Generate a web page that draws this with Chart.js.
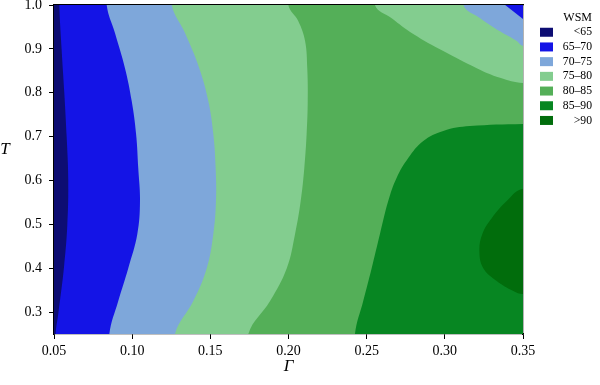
<!DOCTYPE html>
<html>
<head>
<meta charset="utf-8">
<script src="https://cdn.jsdelivr.net/npm/chart.js@4.4.1/dist/chart.umd.min.js"></script>
<style>
  html, body { margin: 0; padding: 0; background: #fff; }
  #wrap { width: 600px; height: 385px; }
</style>
</head>
<body>
<div id="wrap"><canvas id="contour"></canvas></div>
<script>
const bins = ['<65', '65–70', '70–75', '75–80', '80–85', '85–90', '>90'];
const binColors = ['#0d0d73', '#1414e6', '#7ea7da', '#83cd8f', '#54af58', '#078622', '#016d0c'];
const xTicks = [0.05, 0.10, 0.15, 0.20, 0.25, 0.30, 0.35];
const yTicks = [0.3, 0.4, 0.5, 0.6, 0.7, 0.8, 0.9, 1.0];

// contour lines, [Γ, T]
const edge65 = [[0.0534,1.0],[0.0549,0.897],[0.0566,0.799],[0.0581,0.699],[0.0591,0.601],[0.0585,0.498],[0.0564,0.403],[0.0528,0.298],[0.0511,0.25]];
const edge70 = [[0.0837,1.0],[0.0890,0.936],[0.0954,0.856],[0.0997,0.781],[0.1025,0.706],[0.1039,0.628],[0.1050,0.553],[0.1033,0.478],[0.0975,0.400],[0.0911,0.325],[0.0854,0.25]];
const edge75 = [[0.1253,1.0],[0.1338,0.936],[0.1429,0.856],[0.1487,0.781],[0.1519,0.706],[0.1534,0.628],[0.1536,0.553],[0.1519,0.478],[0.1477,0.400],[0.1391,0.325],[0.1274,0.25]];
const edge80 = [[0.1999,1.0],[0.2063,0.963],[0.2106,0.918],[0.2120,0.856],[0.2123,0.781],[0.2116,0.706],[0.2101,0.628],[0.2078,0.553],[0.2042,0.478],[0.1989,0.400],[0.1882,0.325],[0.1743,0.25]];
const edge85 = [[0.2425,0.25],[0.2478,0.325],[0.2532,0.400],[0.2585,0.478],[0.2638,0.553],[0.2692,0.606],[0.2766,0.651],[0.2862,0.690],[0.2990,0.713],[0.3161,0.724],[0.35,0.729]];
const edge90 = [[0.35,0.581],[0.3396,0.553],[0.3300,0.514],[0.3240,0.478],[0.3221,0.439],[0.3246,0.400],[0.3332,0.371],[0.3438,0.348],[0.35,0.341]];
const edge80top = [[0.2553,1.0],[0.2660,0.970],[0.2798,0.934],[0.2990,0.895],[0.3204,0.856],[0.3353,0.834],[0.35,0.822]];
const edge75top = [[0.3119,1.0],[0.3226,0.970],[0.3353,0.940],[0.3460,0.918],[0.35,0.907]];
const edge70top = [[0.3386,1.0],[0.35,0.968]];

// push an end point of a contour a bit past the frame so the fill reaches the edge
function pastEdge(p) {
  if (p[1] >= 1.0) return [p[0], 1.08];
  if (p[1] <= 0.25) return [p[0], 0.17];
  return [0.38, p[1]];
}

function region(edge, closing) {
  const pts = closing.concat([pastEdge(edge[0])], edge, [pastEdge(edge[edge.length - 1])]);
  return pts.map(p => ({x: p[0], y: p[1]}));
}

const layers = [
  {bin: 0, pts: [[0.45,0.15],[0,0.15],[0,1.1],[0.45,1.1]].map(p => ({x: p[0], y: p[1]})), tension: 0},
  {bin: 1, pts: region(edge65, [[0.45,0.15],[0.45,1.1]])},
  {bin: 2, pts: region(edge70, [[0.45,0.15],[0.45,1.1]])},
  {bin: 3, pts: region(edge75, [[0.45,0.15],[0.45,1.1]])},
  {bin: 4, pts: region(edge80, [[0.45,0.15],[0.45,1.1]])},
  {bin: 5, pts: region(edge85, [[0.45,0.73],[0.45,0.15]])},
  {bin: 6, pts: region(edge90, [[0.45,0.34],[0.45,0.58]])},
  {bin: 3, pts: region(edge80top, [[0.45,0.82],[0.45,1.1]])},
  {bin: 2, pts: region(edge75top, [[0.45,0.9],[0.45,1.1]])},
  {bin: 1, pts: region(edge70top, [[0.45,0.97],[0.45,1.1]]), tension: 0}
];

const serif = 'Liberation Serif';

const yTitle = {
  id: 'yTitle',
  afterDraw(chart) {
    const {ctx, chartArea: a} = chart;
    ctx.save();
    ctx.font = 'italic 17px "' + serif + '"';
    ctx.fillStyle = '#000';
    ctx.textAlign = 'center';
    ctx.textBaseline = 'middle';
    ctx.fillText('T', 5, a.top + (a.bottom - a.top) * 0.438);
    ctx.restore();
  }
};

const frame = {color: '#000', width: 1.3};

new Chart(document.getElementById('contour'), {
  type: 'line',
  data: {
    datasets: layers.map((l, i) => ({
      data: l.pts,
      backgroundColor: binColors[l.bin],
      borderColor: 'rgba(0,0,0,0)',
      borderWidth: 0,
      pointRadius: 0,
      fill: 'shape',
      tension: l.tension === undefined ? 0.4 : l.tension,
      capBezierPoints: false,
      order: layers.length - i
    }))
  },
  options: {
    responsive: true,
    maintainAspectRatio: false,
    animation: false,
    layout: {padding: {left: 0, top: 0, right: 8, bottom: 0}},
    plugins: {
      tooltip: {enabled: false},
      legend: {
        position: 'right',
        align: 'start',
        maxWidth: 55,
        onClick: null,
        title: {display: true, text: 'WSM', color: '#000', position: 'end',
                font: {family: serif, size: 12}, padding: {top: 12, bottom: -3}},
        labels: {
          boxWidth: 13, boxHeight: 9, padding: 3, color: '#000', textAlign: 'right',
          font: {family: serif, size: 11.7},
          generateLabels: () => bins.map((b, i) => ({
            text: b, fillStyle: binColors[i], strokeStyle: binColors[i],
            lineWidth: 0, hidden: false, fontColor: '#000', textAlign: 'right'
          }))
        }
      }
    },
    scales: {
      x: {
        type: 'linear', min: 0.05, max: 0.35,
        afterBuildTicks: s => { s.ticks = xTicks.map(v => ({value: v})); },
        afterFit: s => { s.height = 51; },
        ticks: {callback: v => v.toFixed(2), color: '#000', font: {family: serif, size: 14},
                padding: 4, maxRotation: 0, autoSkip: false},
        grid: {drawOnChartArea: false, tickLength: 5, color: '#000'},
        border: frame,
        title: {display: true, text: 'Γ', color: '#000',
                font: {family: serif, size: 17, style: 'italic'}, padding: {top: 0, bottom: 8}}
      },
      y: {
        type: 'linear', min: 0.25, max: 1.0,
        afterBuildTicks: s => { s.ticks = yTicks.map(v => ({value: v})); },
        afterFit: s => { s.width = 54; s.paddingTop = 0; s.paddingBottom = 0; },
        ticks: {callback: v => v.toFixed(1), color: '#000', font: {family: serif, size: 14}, padding: 7},
        grid: {drawOnChartArea: false, tickLength: 5, color: '#000'},
        border: frame
      },
      x2: {
        type: 'linear', position: 'top', min: 0.05, max: 0.35,
        ticks: {display: false}, grid: {display: false}, border: frame,
        afterFit: s => { s.height = 5; }
      },
      y2: {
        type: 'linear', position: 'right', min: 0.25, max: 1.0,
        ticks: {display: false}, grid: {display: false}, border: frame,
        afterFit: s => { s.width = 14; }
      }
    }
  },
  plugins: [yTitle]
});
</script>
</body>
</html>
